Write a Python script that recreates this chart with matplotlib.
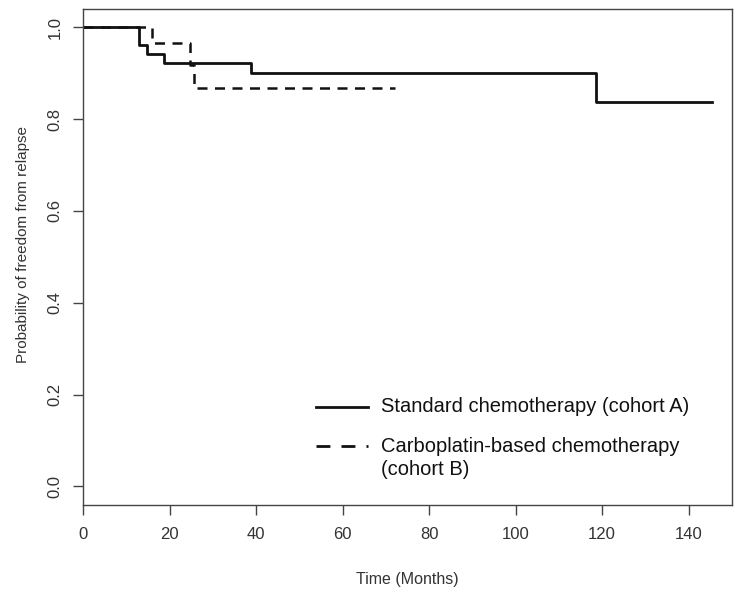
import matplotlib
matplotlib.use("Agg")
import matplotlib.pyplot as plt

# Cohort A (standard chemotherapy) step function
time_a = [0, 12.8, 14.7, 18.6, 38.7, 118.5, 145.5]
surv_a = [1.0, 0.962, 0.942, 0.922, 0.901, 0.837, 0.837]

# Cohort B (carboplatin-based chemotherapy) step function
time_b = [0, 15.8, 24.8, 25.6, 72.0]
surv_b = [1.0, 0.966, 0.917, 0.867, 0.867]

x_ticks = [0, 20, 40, 60, 80, 100, 120, 140]
y_ticks = [0.0, 0.2, 0.4, 0.6, 0.8, 1.0]

label_a = 'Standard chemotherapy (cohort A)'
label_b = 'Carboplatin-based chemotherapy\n(cohort B)'

plt.rcParams['font.family'] = ['Liberation Sans', 'DejaVu Sans']

fig = plt.figure(figsize=(7.43, 5.91), dpi=100)
ax = fig.add_axes([0.112, 0.146, 0.873, 0.839])

ax.step(time_a, surv_a, where='post', color='#111111', lw=2.0)
ax.step(time_b, surv_b, where='post', color='#111111', lw=1.8, linestyle=(0, (4, 3)))

ax.set_xlim(0, 150)
ax.set_ylim(-0.04, 1.04)
ax.set_xticks(x_ticks)
ax.set_yticks(y_ticks)
ax.set_xticklabels([str(v) for v in x_ticks])
ax.set_yticklabels([f"{v:.1f}" for v in y_ticks], rotation=90, va='center')

for s in ax.spines.values():
    s.set_color('#444444')
    s.set_linewidth(1.0)
ax.tick_params(axis='both', colors='#444444', labelcolor='#333333', labelsize=12, length=7, width=1.0)
ax.tick_params(axis='x', pad=9)
ax.tick_params(axis='y', pad=8)

ax.set_xlabel('Time (Months)', fontsize=11.5, color='#333333', labelpad=22)
ax.set_ylabel('Probability of freedom from relapse', fontsize=11, color='#333333')
ax.yaxis.set_label_coords(-0.082, 0.524)

# legend keys and labels
ax.plot([0.359, 0.439], [0.198, 0.198], transform=ax.transAxes, color='#111111', lw=2.0)
ax.plot([0.359, 0.439], [0.119, 0.119], transform=ax.transAxes, color='#111111', lw=2.0,
        linestyle=(0, (5, 4)))
ax.text(0.459, 0.198, label_a, transform=ax.transAxes, fontsize=14.5, color='#111111',
        va='center', ha='left')
ax.text(0.459, 0.0935, label_b, transform=ax.transAxes, fontsize=14.5, color='#111111',
        va='center', ha='left', linespacing=1.25)

fig.savefig('out.png', dpi=100)
